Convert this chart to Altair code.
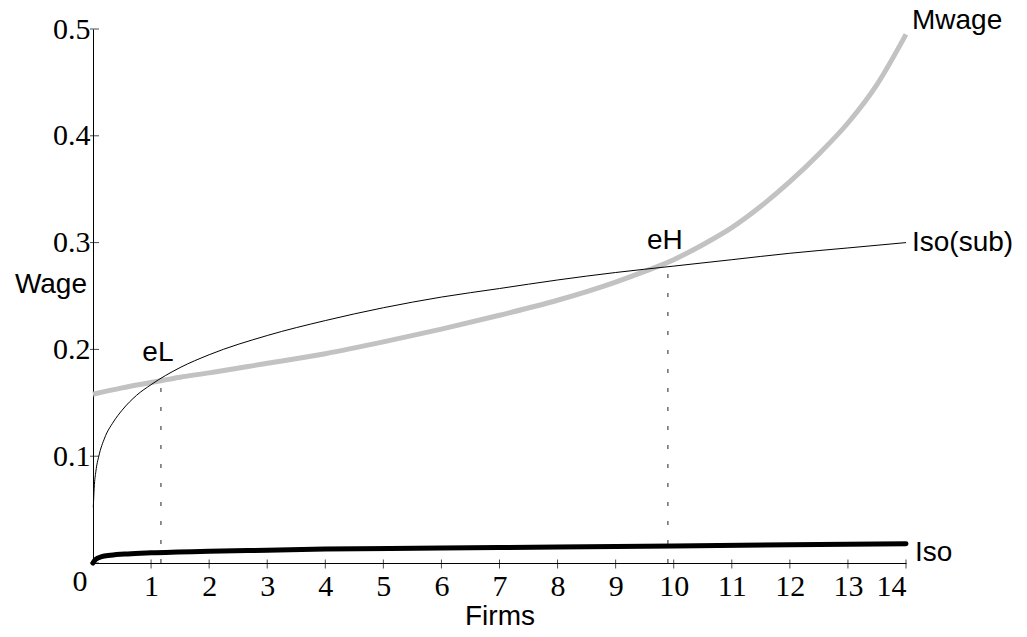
import altair as alt
import pandas as pd

# Mwage curve (grey, thick)
mwage_x = [0, 0.5, 1, 1.5, 2, 3, 4, 5, 6, 7, 8, 9, 9.5, 10, 10.5, 11, 11.5, 12, 12.5, 13, 13.5, 14]
mwage_y = [0.158, 0.164, 0.169, 0.174, 0.178, 0.187, 0.196, 0.207, 0.219, 0.232, 0.246, 0.263,
           0.273, 0.284, 0.298, 0.314, 0.334, 0.357, 0.383, 0.412, 0.448, 0.495]

# Iso(sub) curve (thin black)
isosub_x = [0.005, 0.02, 0.05, 0.1, 0.2, 0.35, 0.5, 0.75, 1, 1.5, 2, 3, 4, 5, 6, 7, 8, 9, 10, 11, 12, 13, 14]
isosub_y = [0.052, 0.070, 0.086, 0.100, 0.117, 0.132, 0.143, 0.157, 0.167, 0.183, 0.195, 0.213, 0.227,
            0.239, 0.249, 0.257, 0.265, 0.272, 0.278, 0.284, 0.290, 0.295, 0.300]

# Iso curve (thick black)
iso_x = [0, 0.03, 0.08, 0.15, 0.3, 0.6, 1, 2, 3, 4, 6, 8, 10, 12, 14]
iso_y = [0.0, 0.0025, 0.0045, 0.006, 0.0072, 0.0085, 0.0095, 0.011, 0.012, 0.013, 0.014, 0.015,
         0.016, 0.017, 0.018]

# equilibrium points
eq_x = [1.17, 9.9]
eq_y = [0.172, 0.277]
eq_names = ["eL", "eH"]

x_ticks = list(range(1, 15))
y_ticks = [0, 0.1, 0.2, 0.3, 0.4, 0.5]

SERIF = "Liberation Serif"
SANS = "Liberation Sans"

xs = alt.Scale(domain=[0, 14], nice=False, zero=False)
ys = alt.Scale(domain=[0, 0.5], nice=False, zero=False)

xaxis = alt.Axis(values=x_ticks, format="d", ticks=False, grid=False, domainColor="black",
                 domainWidth=1, labelFont=SERIF, labelFontSize=30, labelColor="black",
                 labelPadding=8, title="Firms", titleFont=SANS, titleFontSize=28,
                 titleFontWeight="normal", titleColor="black", titlePadding=1)
yaxis = alt.Axis(values=[0.1, 0.2, 0.3, 0.4, 0.5], format=".1f", ticks=False, grid=False,
                 domainColor="black", domainWidth=1, labelFont=SERIF, labelFontSize=30,
                 labelColor="black", labelPadding=3, title=None)

mw = pd.DataFrame({"x": mwage_x, "y": mwage_y})
isd = pd.DataFrame({"x": isosub_x, "y": isosub_y})
iso = pd.DataFrame({"x": iso_x, "y": iso_y})
eq = pd.DataFrame({"x": eq_x, "y": eq_y, "y0": [0, 0], "name": eq_names})

base_line = alt.Chart(mw).mark_line(color="#c2c2c2", strokeWidth=5, interpolate="monotone").encode(
    x=alt.X("x:Q", scale=xs, axis=xaxis),
    y=alt.Y("y:Q", scale=ys, axis=yaxis),
)
isosub_line = alt.Chart(isd).mark_line(color="black", strokeWidth=1, interpolate="monotone").encode(
    x=alt.X("x:Q", scale=xs), y=alt.Y("y:Q", scale=ys))
iso_line = alt.Chart(iso).mark_line(color="black", strokeWidth=5, strokeCap="round",
                                    interpolate="monotone").encode(
    x=alt.X("x:Q", scale=xs), y=alt.Y("y:Q", scale=ys))

rules = alt.Chart(eq).mark_rule(color="#222222", strokeWidth=1, strokeDash=[4, 15]).encode(
    x=alt.X("x:Q", scale=xs), y=alt.Y("y0:Q", scale=ys), y2="y:Q")

eq_text = alt.Chart(eq).mark_text(font=SANS, fontSize=28, color="black", baseline="middle",
                                  align="center", dx=-3, dy=-26).encode(
    x=alt.X("x:Q", scale=xs), y=alt.Y("y:Q", scale=ys), text="name:N")

ytick_df = pd.DataFrame({"y": y_ticks, "x": [0] * len(y_ticks)})
ytick = alt.Chart(ytick_df).mark_tick(orient="horizontal", size=9, thickness=1, color="black",
                                      xOffset=1.5).encode(
    x=alt.X("x:Q", scale=xs), y=alt.Y("y:Q", scale=ys))
xtick_df = pd.DataFrame({"x": x_ticks, "y": [0] * len(x_ticks)})
xtick = alt.Chart(xtick_df).mark_tick(orient="vertical", size=9, thickness=1, color="black",
                                      yOffset=1).encode(
    x=alt.X("x:Q", scale=xs), y=alt.Y("y:Q", scale=ys))

# curve end labels
end_labels = pd.DataFrame({
    "x": [14, 14, 14],
    "y": [0.495, 0.300, 0.018],
    "t": ["Mwage", "Iso(sub)", "Iso"],
})
lab_mw = alt.Chart(end_labels.iloc[[0]]).mark_text(font=SANS, fontSize=28, align="left",
                                                   baseline="alphabetic", dx=6, dy=-5, color="black").encode(
    x=alt.X("x:Q", scale=xs), y=alt.Y("y:Q", scale=ys), text="t:N")
lab_is = alt.Chart(end_labels.iloc[[1]]).mark_text(font=SANS, fontSize=28, align="left",
                                                   baseline="middle", dx=6, dy=0, color="black").encode(
    x=alt.X("x:Q", scale=xs), y=alt.Y("y:Q", scale=ys), text="t:N")
lab_iso = alt.Chart(end_labels.iloc[[2]]).mark_text(font=SANS, fontSize=28, align="left",
                                                    baseline="alphabetic", dx=9, dy=17, color="black").encode(
    x=alt.X("x:Q", scale=xs), y=alt.Y("y:Q", scale=ys), text="t:N")

misc = pd.DataFrame({"x": [0], "y": [0.26], "w": ["Wage"]})
wage_title = alt.Chart(misc).mark_text(font=SANS, fontSize=28, align="right", baseline="middle",
                                       dx=-6, color="black").encode(
    x=alt.X("x:Q", scale=xs), y=alt.Y("y:Q", scale=ys), text="w:N")
origin = pd.DataFrame({"x": [0], "y": [0], "o": ["0"]})
origin_lab = alt.Chart(origin).mark_text(font=SERIF, fontSize=30, align="center", baseline="middle",
                                         dx=-13, dy=19, color="black").encode(
    x=alt.X("x:Q", scale=xs), y=alt.Y("y:Q", scale=ys), text="o:N")

chart = alt.layer(
    base_line, isosub_line, iso_line, rules, ytick, xtick, eq_text,
    lab_mw, lab_is, lab_iso, wage_title, origin_lab
).properties(
    width=813, height=534,
    autosize="none",
    background="white",
    padding={"left": 85, "top": 21, "right": 112, "bottom": 66},
).configure_view(stroke=None, strokeWidth=0)

chart.save("out.html", embed_options={"renderer": "svg", "actions": False})
